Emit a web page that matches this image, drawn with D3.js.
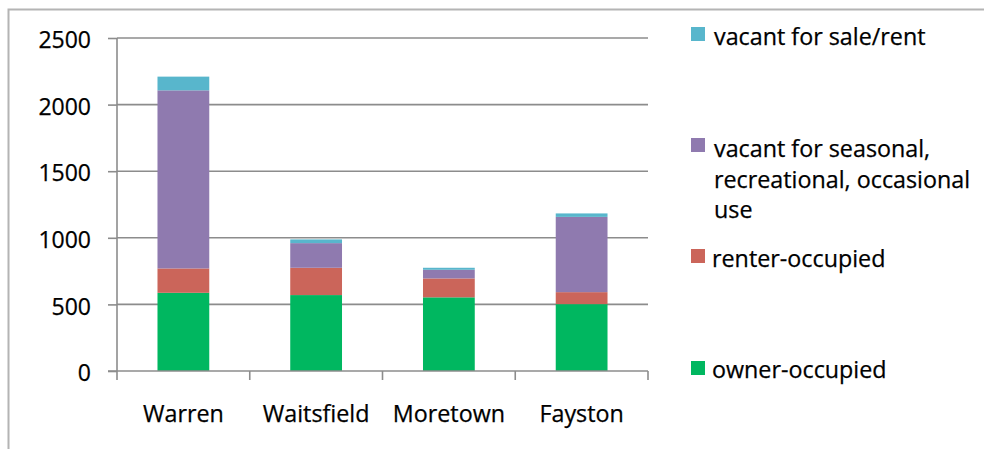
<!DOCTYPE html>
<html>
<head>
<meta charset="utf-8">
<script src="https://cdn.jsdelivr.net/npm/d3@7"></script>
<style>
  html, body { margin: 0; padding: 0; background: #fff; overflow: hidden; }
  svg { display: block; }
  text { font-family: "Open Sans", Lato, sans-serif; fill: #000; stroke: #000; stroke-width: 0.25px; }
</style>
</head>
<body>
<svg id="chart" width="984" height="449"></svg>
<script>
// Housing units by town, stacked by occupancy / vacancy status
const towns = ["Warren", "Waitsfield", "Moretown", "Fayston"];
const ownerOccupied   = [587, 570, 553, 502];
const renterOccupied  = [183, 205, 142, 90];
const vacantSeasonal  = [1337, 185, 65, 565];
const vacantSaleRent  = [103, 28, 15, 26];
const yTicks = [0, 500, 1000, 1500, 2000, 2500];

const seriesNames = ["owner-occupied", "renter-occupied",
  "vacant for seasonal, recreational, occasional use", "vacant for sale/rent"];
const seriesColors = ["#00b760", "#cb655a", "#8f7aaf", "#58b6cc"];
const seriesValues = [ownerOccupied, renterOccupied, vacantSeasonal, vacantSaleRent];

const rows = towns.map((t, i) => {
  const r = { town: t };
  seriesNames.forEach((s, k) => { r[s] = seriesValues[k][i]; });
  return r;
});

const svg = d3.select("#chart");
const FS = 23.3;

// outer chart frame
svg.append("rect")
  .attr("x", 8.5).attr("y", 9.5).attr("width", 1100).attr("height", 1100)
  .attr("fill", "none").attr("stroke", "#b4b4b4").attr("stroke-width", 2);

const plot = { left: 117, right: 648, top: 38, bottom: 371 };

const x = d3.scaleBand().domain(towns).range([plot.left, plot.right]).paddingInner(0.61).paddingOuter(0.305);
const xCat = d3.scaleBand().domain(towns).range([plot.left, plot.right]);
const y = d3.scaleLinear().domain([0, 2500]).range([plot.bottom, plot.top]);

// horizontal gridlines
svg.append("g")
  .selectAll("line").data(yTicks.filter(d => d > 0)).join("line")
  .attr("x1", plot.left).attr("x2", plot.right)
  .attr("y1", d => y(d)).attr("y2", d => y(d))
  .attr("stroke", "#8c8c8c").attr("stroke-width", 1.6);

// stacked bars
const stack = d3.stack().keys(seriesNames);
const layers = stack(rows);
svg.append("g")
  .selectAll("g").data(layers).join("g")
  .attr("fill", (d, i) => seriesColors[i])
  .selectAll("rect").data(d => d).join("rect")
  .attr("x", d => x(d.data.town))
  .attr("width", x.bandwidth())
  .attr("y", d => y(d[1]))
  .attr("height", d => y(d[0]) - y(d[1]));

// y axis
const yAxis = svg.append("g")
  .attr("transform", `translate(${plot.left},0)`)
  .call(d3.axisLeft(y).tickValues(yTicks).tickSize(9).tickPadding(17).tickFormat(d3.format("d")));
yAxis.select(".domain").attr("stroke", "#8c8c8c").attr("stroke-width", 1.6)
  .attr("d", `M0,${plot.top}V${plot.bottom}`);
yAxis.selectAll(".tick line").attr("stroke", "#8c8c8c").attr("stroke-width", 1.6);
yAxis.selectAll(".tick text").attr("font-size", 23).attr("dy", "0.42em")
  .style("font-family", "'Open Sans', sans-serif").attr("fill", "#000");

// x axis with ticks between categories
const xAxisG = svg.append("g").attr("transform", `translate(0,${plot.bottom})`);
xAxisG.append("line")
  .attr("x1", plot.left - 9).attr("x2", plot.right)
  .attr("stroke", "#8c8c8c").attr("stroke-width", 1.6);
const bounds = towns.map(t => xCat(t)).concat([plot.right]);
xAxisG.selectAll("line.tk").data(bounds).join("line").attr("class", "tk")
  .attr("x1", d => d).attr("x2", d => d).attr("y1", 0).attr("y2", 9)
  .attr("stroke", "#8c8c8c").attr("stroke-width", 1.6);
xAxisG.selectAll("text").data(towns).join("text")
  .attr("x", d => xCat(d) + xCat.bandwidth() / 2)
  .attr("y", 51)
  .attr("text-anchor", "middle").attr("font-size", FS)
  .text(d => d);

// legend (top entry = top of stack)
const legendItems = [
  { name: 3, lines: ["vacant for sale/rent"], sq: 27, base: 45, tx: 714 },
  { name: 2, lines: ["vacant for seasonal,", "recreational, occasional", "use"], sq: 138, base: 157, tx: 714 },
  { name: 1, lines: ["renter-occupied"], sq: 249, base: 267, tx: 712 },
  { name: 0, lines: ["owner-occupied"], sq: 361, base: 378, tx: 712 }
];
const lg = svg.append("g");
legendItems.forEach(it => {
  lg.append("rect").attr("x", 691).attr("y", it.sq).attr("width", 14).attr("height", 14)
    .attr("fill", seriesColors[it.name]);
  const t = lg.append("text").attr("x", it.tx).attr("y", it.base).attr("font-size", FS);
  it.lines.forEach((l, i) => {
    t.append("tspan").attr("x", it.tx).attr("dy", i === 0 ? 0 : 30.6).text(l);
  });
});
</script>
</body>
</html>
